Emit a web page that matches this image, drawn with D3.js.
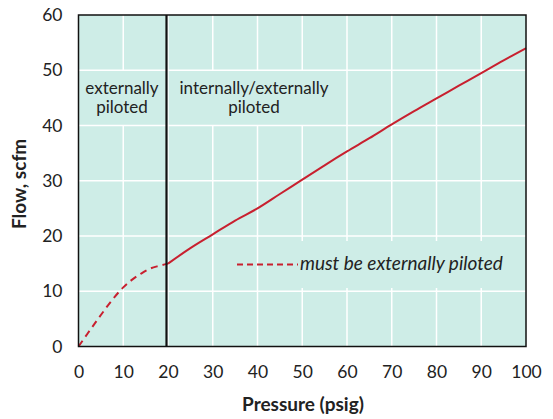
<!DOCTYPE html>
<html lang="en">
	<head>
		<meta charset="UTF-8" />
		<title>Flow vs Pressure</title>
		<style>
			body { margin: 0; background: #fff; }
			text { font-family: Lato, "Open Sans", sans-serif; fill: #222; }
		</style>
	</head>
	<body>
		<div id="chart"></div>
		<script src="https://d3js.org/d3.v7.min.js"></script>
		<script>
			const width = 553;
			const height = 419;

			const xTicks = [0, 10, 20, 30, 40, 50, 60, 70, 80, 90, 100];
			const yTicks = [0, 10, 20, 30, 40, 50, 60];

			// dashed part, 0-20 psig
			const extPressure = [0, 2, 5, 8, 10, 12, 14, 16, 18, 20];
			const extFlow = [0, 2.3, 5.7, 8.9, 10.7, 12.1, 13.2, 14.1, 14.6, 15];

			// solid part, 20-100 psig
			const intPressure = [20, 25, 30, 35, 40, 45, 50, 55, 60, 65, 70, 75, 80, 85, 90, 95, 100];
			const intFlow = [15, 17.8, 20.3, 22.8, 25, 27.6, 30.2, 32.8, 35.3, 37.7, 40.2, 42.6, 44.9, 47.2, 49.5, 51.8, 54];

			const boundary = 20;

			const x = d3.scaleLinear().domain([0, 100]).range([78.5, 526]);
			const y = d3.scaleLinear().domain([0, 60]).range([346.5, 15]);

			const bg = "#ceede7";
			const red = "#c8202f";

			const svg = d3
				.select("#chart")
				.append("svg")
				.attr("width", width)
				.attr("height", height);

			svg.append("rect")
				.attr("x", x(0))
				.attr("y", y(60))
				.attr("width", x(100) - x(0))
				.attr("height", y(0) - y(60))
				.attr("fill", bg);

			// vertical grid
			svg.append("g")
				.selectAll("line")
				.data(xTicks.slice(1, -1))
				.join("line")
				.attr("x1", d => x(d))
				.attr("x2", d => x(d))
				.attr("y1", y(60))
				.attr("y2", y(0))
				.attr("stroke", "#fff")
				.attr("stroke-width", 1.5);

			// label backgrounds hide the vertical grid
			const boxes = [
				[x(0) + 1, y(50), x(boundary) - x(0) - 3, y(40) - y(50)],
				[x(boundary) + 2, y(50), 170, y(40) - y(50)],
				[298, 241, 212, 47]
			];
			svg.append("g")
				.selectAll("rect")
				.data(boxes)
				.join("rect")
				.attr("x", d => d[0])
				.attr("y", d => d[1])
				.attr("width", d => d[2])
				.attr("height", d => d[3])
				.attr("fill", bg);

			// horizontal grid
			svg.append("g")
				.selectAll("line")
				.data(yTicks.slice(1, -1))
				.join("line")
				.attr("x1", x(0))
				.attr("x2", x(100))
				.attr("y1", d => y(d))
				.attr("y2", d => y(d))
				.attr("stroke", "#fff")
				.attr("stroke-width", 1.5);

			const line = d3.line()
				.x(d => x(d[0]))
				.y(d => y(d[1]))
				.curve(d3.curveMonotoneX);

			svg.append("path")
				.datum(extPressure.map((p, i) => [p, extFlow[i]]))
				.attr("d", line)
				.attr("fill", "none")
				.attr("stroke", red)
				.attr("stroke-width", 2)
				.attr("stroke-dasharray", "7,5");

			svg.append("path")
				.datum(intPressure.map((p, i) => [p, intFlow[i]]))
				.attr("d", line)
				.attr("fill", "none")
				.attr("stroke", red)
				.attr("stroke-width", 2);

			// boundary line
			svg.append("line")
				.attr("x1", x(boundary) - 1.5)
				.attr("x2", x(boundary) - 1.5)
				.attr("y1", y(60))
				.attr("y2", y(0))
				.attr("stroke", "#111")
				.attr("stroke-width", 2.2);

			// frame
			svg.append("rect")
				.attr("x", x(0))
				.attr("y", y(60))
				.attr("width", x(100) - x(0))
				.attr("height", y(0) - y(60))
				.attr("fill", "none")
				.attr("stroke", "#111")
				.attr("stroke-width", 1.5);

			// axes
			const xAxis = svg.append("g")
				.attr("transform", `translate(0,${y(0)})`)
				.call(d3.axisBottom(x).tickValues(xTicks).tickSize(0).tickPadding(19));
			const yAxis = svg.append("g")
				.attr("transform", `translate(${x(0)},0)`)
				.call(d3.axisLeft(y).tickValues(yTicks).tickSize(0).tickPadding(16));
			[xAxis, yAxis].forEach(a => {
				a.select(".domain").remove();
				a.selectAll("text")
					.style("font-family", "Lato, sans-serif")
					.style("font-size", "17.5px")
					.attr("fill", "#222");
			});

			svg.append("text")
				.attr("x", 303)
				.attr("y", 411)
				.attr("text-anchor", "middle")
				.style("font-size", "19px")
				.style("font-weight", "bold")
				.attr("fill", "#111")
				.text("Pressure (psig)");

			svg.append("text")
				.attr("transform", `translate(26,184) rotate(-90)`)
				.attr("text-anchor", "middle")
				.style("font-size", "19px")
				.style("font-weight", "bold")
				.attr("fill", "#111")
				.text("Flow, scfm");

			const regionLabels = [
				{ cx: 122, lines: ["externally", "piloted"] },
				{ cx: 254, lines: ["internally/externally", "piloted"] }
			];
			regionLabels.forEach(r => {
				r.lines.forEach((t, i) => {
					svg.append("text")
						.attr("x", r.cx)
						.attr("y", 94 + i * 19)
						.attr("text-anchor", "middle")
						.style("font-size", "17px")
						.text(t);
				});
			});

			// legend
			svg.append("line")
				.attr("x1", 237)
				.attr("x2", 298)
				.attr("y1", 264.5)
				.attr("y2", 264.5)
				.attr("stroke", red)
				.attr("stroke-width", 2)
				.attr("stroke-dasharray", "6,4");
			svg.append("text")
				.attr("x", 300)
				.attr("y", 270)
				.style("font-size", "19px")
				.style("font-style", "italic")
				.text("must be externally piloted");
		</script>
	</body>
</html>
